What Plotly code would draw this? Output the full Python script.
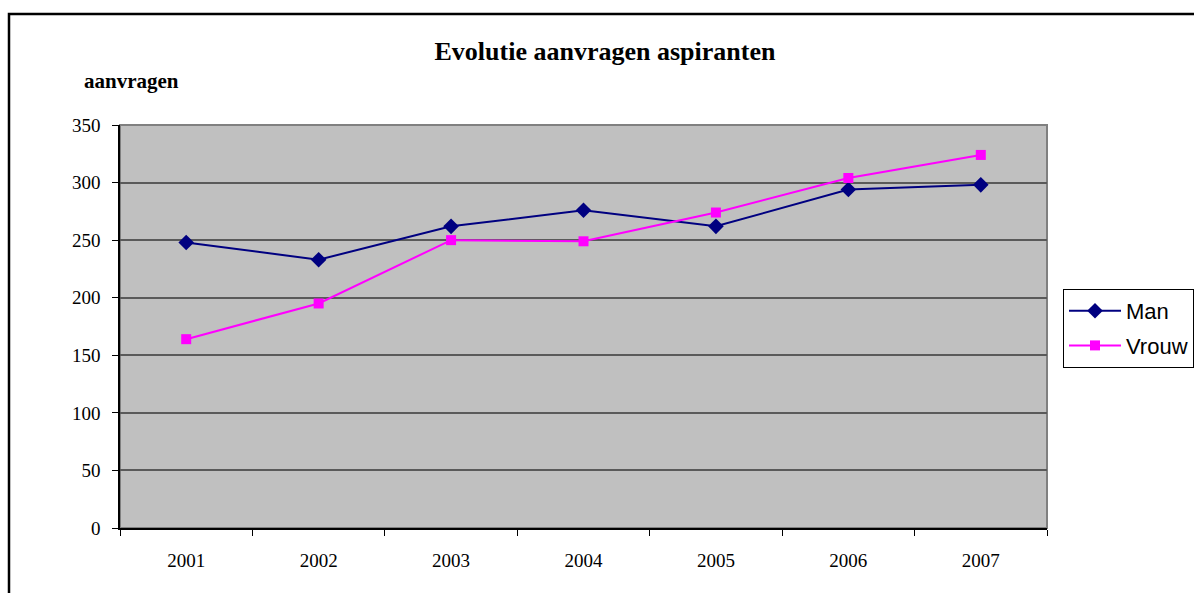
import plotly.graph_objects as go

years = ["2001", "2002", "2003", "2004", "2005", "2006", "2007"]
man = [248, 233, 262, 276, 262, 294, 298]
vrouw = [164, 195, 250, 249, 274, 304, 324]
y_ticks = [0, 50, 100, 150, 200, 250, 300, 350]

W, H = 1194, 593
L, R, T, B = 120, 147, 125, 65
pw, ph = W - L - R, H - T - B

serif = "Liberation Serif, Times New Roman, serif"
sans = "Liberation Sans, Arial, sans-serif"

fig = go.Figure()
fig.add_trace(go.Scatter(
    x=years, y=man, name="Man", mode="lines+markers", legendgroup="m",
    line=dict(color="#000080", width=2),
    marker=dict(symbol="diamond", size=12, color="#000080"),
))
fig.add_trace(go.Scatter(
    x=years, y=vrouw, name="Vrouw", mode="lines+markers", legendgroup="v",
    line=dict(color="#FF00FF", width=2),
    marker=dict(symbol="square", size=10, color="#FF00FF"),
))

# outer chart border and gray plot frame (top/right)
fig.add_shape(type="rect", xref="paper", yref="paper",
              x0=(9 - L) / pw, x1=(W + 20 - L) / pw,
              y0=-(B + 20) / ph, y1=(H - B - 14) / ph,
              line=dict(color="black", width=2.5), layer="below")
fig.add_shape(type="rect", xref="paper", yref="paper",
              x0=0, x1=1, y0=0, y1=1,
              line=dict(color="#808080", width=2), layer="below")

fig.add_annotation(text="<b>aanvragen</b>", xref="paper", yref="paper",
                   x=(82 - L) / pw, y=(H - B - 81) / ph,
                   xanchor="left", yanchor="middle", showarrow=False,
                   font=dict(family=serif, size=21, color="black"))

fig.update_layout(
    width=W, height=H,
    margin=dict(l=L, r=R, t=T, b=B, autoexpand=False),
    paper_bgcolor="white",
    plot_bgcolor="#C0C0C0",
    title=dict(text="<b>Evolutie aanvragen aspiranten</b>",
               xref="container", yref="container",
               x=605 / W, y=1 - 51 / H, xanchor="center", yanchor="middle",
               font=dict(family=serif, size=26, color="black")),
    showlegend=True,
    legend=dict(xref="container", yref="container",
                x=1063 / W, y=1 - 289 / H,
                xanchor="left", yanchor="top",
                bgcolor="white", bordercolor="black", borderwidth=1,
                font=dict(family=sans, size=22, color="black"),
                itemwidth=52, traceorder="grouped", tracegroupgap=3),
)

fig.update_xaxes(
    type="category", range=[-0.5, 6.5],
    showgrid=False, zeroline=False,
    showline=True, linecolor="black", linewidth=1.5,
    ticks="outside", tickson="boundaries", ticklen=6, tickcolor="black",
    ticklabelstandoff=14,
    tickfont=dict(family=serif, size=19, color="black"),
)
fig.update_yaxes(
    range=[0, 350], tickvals=y_ticks,
    showgrid=True, gridcolor="#5a5a5a", gridwidth=1.5,
    zeroline=False,
    showline=True, linecolor="black", linewidth=1.5,
    ticks="outside", ticklen=6, tickcolor="black",
    ticklabelstandoff=8,
    tickfont=dict(family=serif, size=19, color="black"),
)

# drop the default 8px body margin so the figure fills the window exactly
fig.write_html("out.html", config={"displayModeBar": False},
               post_script="document.body.style.margin='0';")
